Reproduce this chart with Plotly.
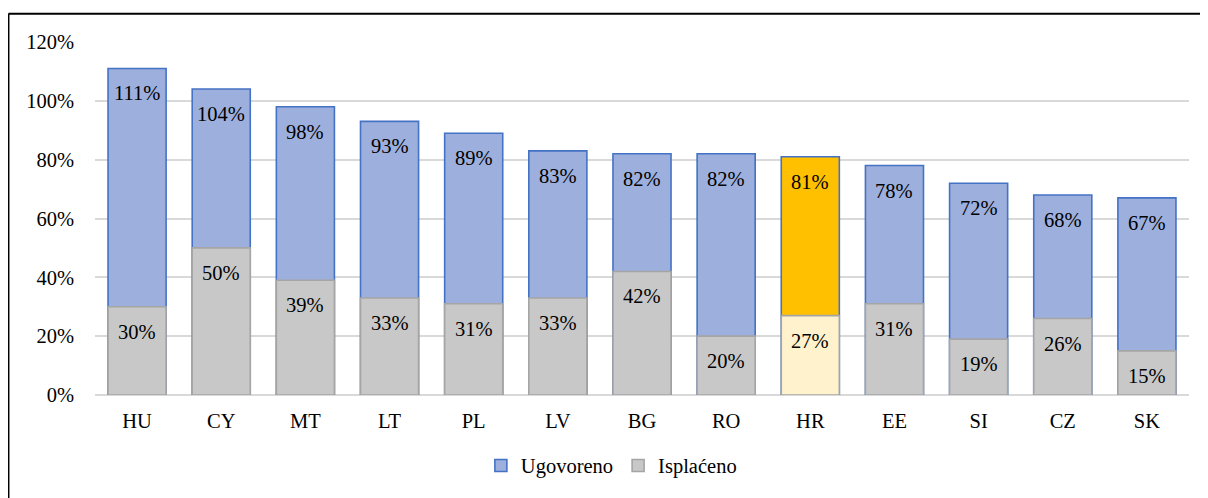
import plotly.graph_objects as go

# data
countries = ['HU', 'CY', 'MT', 'LT', 'PL', 'LV', 'BG', 'RO', 'HR', 'EE', 'SI', 'CZ', 'SK']
ugovoreno = [111, 104, 98, 93, 89, 83, 82, 82, 81, 78, 72, 68, 67]
isplaceno = [30, 50, 39, 33, 31, 33, 42, 20, 27, 31, 19, 26, 15]

FONT = 'Times New Roman, serif'
FS = 20.5
blue_fill, blue_line = '#9dafdd', '#4472c4'
gray_fill, gray_line = '#c8c8c8', '#a5a5a5'

ug_fill = ['#ffc000' if c == 'HR' else blue_fill for c in countries]
isp_fill = ['#fff2cc' if c == 'HR' else gray_fill for c in countries]

fig = go.Figure()
fig.add_trace(go.Bar(
    x=countries, y=[v / 100 for v in ugovoreno], name='Ugovoreno',
    marker=dict(color=ug_fill, line=dict(color=blue_line, width=1.6)),
    hoverinfo='skip',
))
fig.add_trace(go.Bar(
    x=countries, y=[v / 100 for v in isplaceno], name='Isplaćeno',
    marker=dict(color=isp_fill, line=dict(color=gray_line, width=1.6)),
    hoverinfo='skip',
))

# value labels just below the top of each bar
for c, u, i in zip(countries, ugovoreno, isplaceno):
    for v in (u, i):
        fig.add_annotation(x=c, y=v / 100, text=f'{v}%', showarrow=False,
                           yanchor='middle', yshift=-25,
                           font=dict(family=FONT, size=FS, color='black'))

# outer frame (only top and left edges visible)
fig.add_shape(type='line', xref='paper', yref='paper',
              x0=-0.0791, x1=1.2, y0=1.0803, y1=1.0803,
              line=dict(color='black', width=2))
fig.add_shape(type='line', xref='paper', yref='paper',
              x0=-0.0791, x1=-0.0791, y0=1.0803, y1=-0.4,
              line=dict(color='black', width=2))

fig.update_layout(
    width=1200, height=490,
    margin=dict(l=87, r=19, t=34, b=101),
    paper_bgcolor='white', plot_bgcolor='white',
    barmode='overlay', bargap=0.31,
    font=dict(family=FONT, size=FS, color='black'),
    showlegend=True,
    legend=dict(orientation='h', x=0.472, xanchor='center', y=-0.2, yanchor='middle',
                font=dict(family=FONT, size=FS), itemwidth=30, traceorder='normal'),
    xaxis=dict(showline=False, ticks='', ticklabelstandoff=11,
               tickfont=dict(family=FONT, size=FS)),
    yaxis=dict(range=[0, 1.2], dtick=0.2, tickformat='.0%',
               showgrid=True, gridcolor='#d9d9d9', gridwidth=1.5,
               zeroline=True, zerolinecolor='#d9d9d9', zerolinewidth=1.5,
               ticks='', ticklabelstandoff=20,
               tickfont=dict(family=FONT, size=FS)),
)

fig.write_html('out.html')
